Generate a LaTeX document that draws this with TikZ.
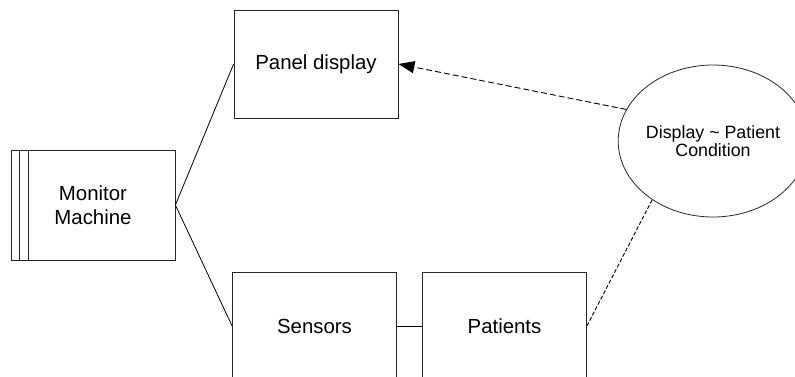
\documentclass[tikz,border=0pt]{standalone}
\usepackage{fontspec}
\setmainfont{Liberation Sans}
\usetikzlibrary{shapes.geometric,arrows.meta}
\tikzset{
  box/.style={draw=black!85, line width=0.8pt, minimum width=164pt, minimum height=108pt, inner sep=0pt, align=center, font=\fontsize{20.4}{24}\selectfont},
  bubble/.style={draw=black!85, line width=0.8pt, ellipse, minimum width=184pt, minimum height=152pt, inner sep=0pt, align=center, font=\fontsize{17.8}{18.5}\selectfont},
  link/.style={draw=black, line width=0.8pt},
  dashlink/.style={draw=black, line width=0.9pt, dash pattern=on 6pt off 3pt},
  dotlink/.style={draw=black, line width=0.9pt, dash pattern=on 4pt off 2pt}
}
\begin{document}
\begin{tikzpicture}[x=1pt,y=-1pt]
\useasboundingbox (0,0) rectangle (795,376);
\clip (0,0) rectangle (795,376);
\node[box] (pd) at (316,64) {Panel display};
\node[box, minimum height=110pt] (mm) at (93,205) {Monitor\\Machine};
\draw[draw=black!85, line width=0.8pt] ([xshift=9pt]mm.north west) -- ([xshift=9pt]mm.south west);
\draw[draw=black!85, line width=0.8pt] ([xshift=18pt]mm.north west) -- ([xshift=18pt]mm.south west);
\node[box] (se) at (314.5,326) {Sensors};
\node[box] (pa) at (504.5,326) {Patients};
\node[bubble] (el) at (713,141) {Display \char`~{} Patient\\Condition};
\draw[link] (mm.east) -- (pd.west);
\draw[link] (mm.east) -- (se.west);
\draw[link] (se.east) -- (pa.west);
\draw[dashlink, -{Triangle[length=16pt,width=12pt]}] (el.160) -- (pd.east);
\draw[dotlink] (pa.east) -- (el.224);
\end{tikzpicture}
\end{document}
